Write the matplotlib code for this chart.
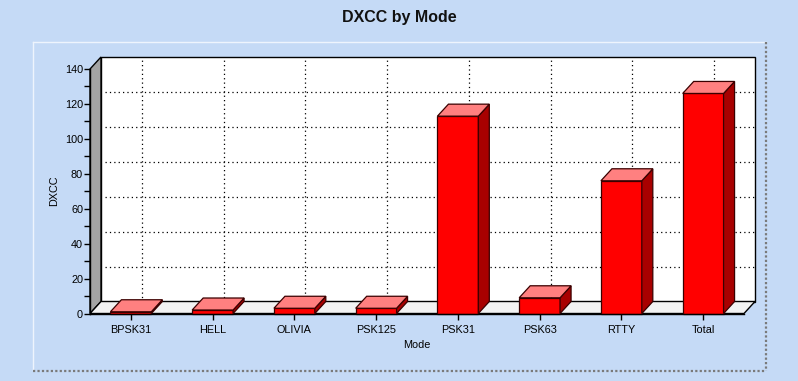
import matplotlib
matplotlib.use("Agg")
import matplotlib.pyplot as plt
from matplotlib.patches import Rectangle, Polygon
from matplotlib.lines import Line2D
from matplotlib.ticker import MultipleLocator

# ---- data ----
modes = ["BPSK31", "HELL", "OLIVIA", "PSK125", "PSK31", "PSK63", "RTTY", "Total"]
dxcc = [1, 2, 3, 3, 113, 9, 76, 126]
y_ticks = [0, 20, 40, 60, 80, 100, 120, 140]
title = "DXCC by Mode"
x_label = "Mode"
y_label = "DXCC"

# ---- style ----
W, H = 798, 381
BG = "#C5DAF6"
FONT = "Liberation Sans"
plt.rcParams["font.family"] = [FONT, "DejaVu Sans"]

fig = plt.figure(figsize=(W / 100, H / 100), dpi=100, facecolor=BG)

# background / panel decoration in pixel coords
bg = fig.add_axes([0, 0, 1, 1], zorder=-5)
bg.set_xlim(0, W)
bg.set_ylim(H, 0)
bg.axis("off")
bg.add_line(Line2D([33, 766], [42, 42], color="#EEF4FD", lw=1))
bg.add_line(Line2D([33, 33], [42, 370], color="#EEF4FD", lw=1))
bg.add_line(Line2D([766, 766], [42, 371], color="#7a7a7a", lw=1.6, ls=(0, (1, 1))))
bg.add_line(Line2D([33, 766], [371, 371], color="#7a7a7a", lw=1.6, ls=(0, (1, 1))))

# main axes: front plane
left_px, right_px, top_px, bot_px = 90, 744, 69, 313.5
ax = fig.add_axes([left_px / W, (H - bot_px) / H, (right_px - left_px) / W, (bot_px - top_px) / H])
ax.patch.set_visible(False)
n = len(modes)
xmin, xmax = -0.5, n - 0.5
ymin, ymax = 0, 140
ax.set_xlim(xmin, xmax)
ax.set_ylim(ymin, ymax)

# depth offset in data units
DEPTH_X_PX, DEPTH_Y_PX = 11, 12
dx = DEPTH_X_PX * (xmax - xmin) / (right_px - left_px)
dy = DEPTH_Y_PX * (ymax - ymin) / (bot_px - top_px)

# back wall
ax.add_patch(Rectangle((xmin + dx, ymin + dy), xmax - xmin, ymax - ymin,
                       facecolor="white", edgecolor="black", lw=1, zorder=0, clip_on=False))
# left wall
ax.add_patch(Polygon([(xmin, ymin), (xmin, ymax), (xmin + dx, ymax + dy), (xmin + dx, ymin + dy)],
                     closed=True, facecolor="#A4A4A4", edgecolor="black", lw=1, zorder=1, clip_on=False))
# floor
ax.add_patch(Polygon([(xmin, ymin), (xmax, ymin), (xmax + dx, ymin + dy), (xmin + dx, ymin + dy)],
                     closed=True, facecolor="#F2F2F2", edgecolor="black", lw=1, zorder=1, clip_on=False))

# grid on back wall
dot = (0, (1, 2.5))
for yv in y_ticks[1:-1]:
    ax.add_line(Line2D([xmin + dx + 0.05, xmax + dx], [yv + dy, yv + dy], color="black",
                       lw=0.9, ls=dot, zorder=2, clip_on=False))
for i in range(n):
    ax.add_line(Line2D([i + dx, i + dx], [ymin + dy, ymax + dy - 1.5], color="black",
                       lw=0.9, ls=dot, zorder=2, clip_on=False))

# 3D bars
bw = 0.25
edge = "#3a0000"
for i, v in enumerate(dxcc):
    ax.add_patch(Rectangle((i - bw, 0), 2 * bw, v, facecolor="#FF0000", edgecolor=edge,
                           lw=0.9, zorder=5, clip_on=False))
    ax.add_patch(Polygon([(i + bw, 0), (i + bw, v), (i + bw + dx, v + dy), (i + bw + dx, dy)],
                         closed=True, facecolor="#A80000", edgecolor=edge, lw=0.9, zorder=5, clip_on=False))
    ax.add_patch(Polygon([(i - bw, v), (i + bw, v), (i + bw + dx, v + dy), (i - bw + dx, v + dy)],
                         closed=True, facecolor="#FF8080", edgecolor=edge, lw=0.9, zorder=5, clip_on=False))

# axes & ticks
for s in ["top", "right"]:
    ax.spines[s].set_visible(False)
for s in ["left", "bottom"]:
    ax.spines[s].set_color("black")
    ax.spines[s].set_linewidth(1)
    ax.spines[s].set_zorder(6)
ax.set_xticks(range(n))
ax.set_xticklabels(modes, fontsize=7.8)
ax.set_yticks(y_ticks)
ax.set_yticklabels([str(t) for t in y_ticks], fontsize=7.8)
ax.yaxis.set_minor_locator(MultipleLocator(10))
ax.tick_params(axis="both", which="both", direction="out", length=4, width=1, color="black", labelcolor="black")
ax.tick_params(axis="x", pad=4)
ax.tick_params(axis="y", pad=1)

ax.set_xlabel(x_label, fontsize=7.8, labelpad=4)
ax.set_ylabel(y_label, fontsize=7.8, labelpad=4)

fig.text(0.5, 1 - 17.5 / H, title, ha="center", va="center", fontsize=11.5, fontweight="bold", color="#111111")

fig.savefig("out.png", dpi=100, facecolor=BG)
